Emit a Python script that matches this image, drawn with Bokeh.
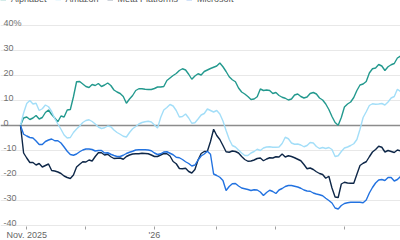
from bokeh.plotting import figure
from bokeh.models import Range1d, FixedTicker, Span, Legend, LegendItem, ColumnDataSource
from bokeh.core.properties import value
from bokeh.embed import file_html
from bokeh.resources import INLINE

# ---- data: % change since start, one value per trading day ----
series_names = ["Alphabet", "Amazon", "Meta Platforms", "Microsoft"]
series_colors = ["#23998e", "#a3def8", "#0e2748", "#2272e0"]

alphabet = [0, 3.0, 3.4, 2.4, 3.0, 4.0, 2.6, 3.2, 5.2, 6.2, 4.4, 3.0, 1.5, 3.8, 3.4, 6.2, 6.4, 11.5, 17.5, 17.6,
            16.6, 15.6, 15.2, 16.4, 16.0, 16.8, 15.6, 16.2, 17.0, 16.0, 14.2, 13.4, 12.8, 11.6, 8.9, 10.6, 12.0, 14.0, 14.7, 14.7,
            14.5, 14.4, 14.4, 14.8, 15.4, 15.4, 15.6, 18.0, 19.0, 20.0, 20.8, 22.0, 22.7, 22.2, 20.5, 18.5, 19.8, 20.7, 20.2, 21.6,
            22.2, 22.8, 23.3, 23.8, 25.0, 23.5, 21.6, 19.5, 18.3, 17.5, 15.0, 13.4, 12.6, 11.6, 10.4, 10.6, 11.5, 14.6, 14.0, 14.2,
            14.0, 12.8, 13.2, 12.0, 11.3, 10.9, 10.2, 10.6, 12.2, 12.6, 11.6, 11.0, 11.4, 12.8, 13.2, 12.6, 11.0, 10.2, 8.6, 6.4,
            3.6, 1.2, 0.1, 3.2, 7.4, 8.6, 9.4, 11.2, 14.0, 16.2, 16.6, 17.6, 21.0, 22.7, 23.0, 24.4, 23.8, 22.0, 23.5, 24.3,
            24.8, 27.0, 27.8]
amazon = [0, 5.0, 8.8, 10.0, 8.6, 8.9, 6.0, 6.7, 8.2, 7.5, 5.6, 2.8, 0.6, -1.5, -3.8, -5.0, -4.8, -2.8, -1.4, -0.2,
          1.2, 2.0, 2.3, 1.6, 0.6, -0.6, -1.2, -0.9, -0.2, -0.5, -1.8, -2.8, -3.5, -4.3, -4.6, -2.8, -1.3, -0.4, 0.6, 1.2,
          1.5, 1.7, 1.4, 0.2, -1.0, 3.2, 6.2, 7.2, 8.4, 7.8, 6.0, 3.4, 3.6, 4.6, 3.0, 0.9, 1.1, 2.6, 4.2, 4.8,
          6.6, 6.0, 5.4, 6.0, 4.6, 1.8, -2.0, -5.5, -8.0, -8.6, -9.8, -11.0, -12.0, -12.0, -11.0, -10.4, -9.5, -10.0, -9.0, -8.6,
          -8.5, -8.7, -8.7, -8.6, -7.2, -4.7, -5.3, -7.0, -7.5, -7.4, -7.8, -8.5, -8.0, -6.8, -7.0, -8.4, -9.2, -8.8, -9.2, -8.8,
          -9.6, -12.4, -12.1, -10.4, -9.0, -8.6, -8.0, -7.3, -5.6, -1.5, 3.2, 5.5, 8.0, 8.7, 8.5, 8.6, 8.8, 8.2, 9.4, 11.0,
          11.6, 14.5, 13.6]
meta = [0, -11.0, -13.0, -14.8, -14.8, -15.8, -15.2, -16.6, -16.0, -15.4, -18.0, -18.2, -18.6, -19.2, -20.2, -20.8, -21.2, -19.8, -16.6, -15.5,
        -14.5, -14.6, -13.8, -14.2, -12.4, -10.9, -10.9, -11.8, -11.5, -12.5, -13.2, -13.1, -13.0, -13.5, -12.4, -11.8, -11.4, -11.3, -11.3, -11.1,
        -11.2, -11.3, -11.8, -12.4, -12.4, -11.8, -11.2, -11.3, -12.2, -14.4, -15.3, -17.2, -17.3, -17.1, -18.4, -19.0, -17.6, -13.8, -11.2, -10.4,
        -10.3, -6.4, -1.5, -4.0, -5.6, -8.0, -10.5, -10.7, -10.2, -10.4, -11.0, -12.4, -13.6, -14.3, -14.2, -13.8, -13.2, -13.0, -14.1, -13.4,
        -12.9, -13.0, -12.5, -12.6, -11.4, -12.6, -12.1, -12.4, -12.9, -13.5, -14.1, -15.6, -17.3, -17.0, -17.6, -18.5, -19.2, -19.6, -21.1, -20.3,
        -25.0, -28.6, -28.8, -23.4, -22.7, -23.0, -23.1, -23.1, -19.5, -16.0, -15.1, -14.5, -12.5, -10.6, -9.6, -8.3, -8.7, -10.6, -10.0, -10.4,
        -10.8, -9.8, -10.2]
microsoft = [0, -3.5, -4.2, -4.8, -5.0, -6.2, -7.6, -7.6, -6.4, -5.8, -5.4, -6.1, -6.1, -7.0, -8.6, -10.3, -11.6, -11.9, -11.4, -10.5,
             -9.8, -9.4, -9.4, -9.6, -10.2, -10.0, -10.0, -11.0, -10.9, -11.5, -12.0, -12.4, -12.4, -11.9, -11.2, -10.7, -10.3, -9.8, -9.7, -9.7,
             -9.7, -9.8, -10.1, -11.0, -11.6, -11.3, -10.6, -10.5, -11.1, -11.7, -12.7, -12.9, -13.6, -14.5, -15.2, -16.2, -15.8, -13.8, -12.2, -11.4,
             -10.3, -11.5, -19.4, -20.0, -20.7, -22.0, -26.0, -24.4, -23.3, -23.2, -24.2, -25.0, -25.3, -25.6, -26.0, -25.7, -25.8, -26.6, -28.0, -26.8,
             -25.9, -26.4, -27.2, -25.8, -25.2, -24.4, -24.0, -24.0, -24.3, -24.6, -25.1, -25.8, -26.2, -26.3, -27.0, -27.4, -27.7, -28.1, -29.1, -30.0,
             -31.0, -33.0, -33.4, -32.0, -31.2, -30.9, -30.7, -30.7, -30.7, -30.7, -30.9, -29.8, -27.0, -24.8, -23.0, -21.8, -21.6, -22.0, -20.8, -20.8,
             -22.2, -21.6, -20.4]

day = list(range(len(alphabet)))

# month-start trading-day positions and their labels
month_ticks = [2, 21, 43, 63, 82, 104]
month_labels = ["Nov. 2025", "", "'26", "", "", ""]

y_ticks = [40, 30, 20, 10, 0, -10, -20, -30, -40]
y_tick_labels = ["40%", "30", "20", "10", "0", "-10", "-20", "-30", "-40"]

# ---- figure ----
FONT = "Liberation Sans"
x_start = -20 / 3.115
x_end = day[-1]

p = figure(frame_width=400, frame_height=226,
           x_range=Range1d(x_start, x_end), y_range=Range1d(-40.4, 50),
           output_backend="svg", toolbar_location=None,
           min_border_left=0, min_border_right=0, min_border_top=0, min_border_bottom=0)
p.outline_line_color = None
p.background_fill_color = "white"
p.border_fill_color = "white"

p.yaxis.visible = False
p.xgrid.visible = False
p.ygrid.ticker = FixedTicker(ticks=y_ticks)
p.ygrid.grid_line_color = "#e8e8e8"
p.ygrid.grid_line_width = 1

xa = p.xaxis[0]
xa.ticker = FixedTicker(ticks=month_ticks)
xa.major_label_overrides = {t: l for t, l in zip(month_ticks, month_labels)}
xa.axis_line_color = None
xa.major_tick_line_color = "#a0a0a0"
xa.major_tick_in = 0
xa.major_tick_out = 3
xa.minor_tick_line_color = None
xa.major_label_standoff = 0
xa.major_label_text_font = FONT
xa.major_label_text_font_size = "9px"
xa.major_label_text_color = "#666666"

zero = Span(location=0, dimension="width", line_color="#8c8c8c", line_width=1.5, level="underlay")
p.add_layout(zero)

# y tick labels drawn inside plot, above the gridlines
lab_src = ColumnDataSource(dict(x=[x_start] * len(y_ticks), y=y_ticks, t=y_tick_labels))
p.text(x="x", y="y", text="t", source=lab_src, x_offset=3, y_offset=-3,
       text_font=value(FONT), text_font_size="9px", text_color="#707070",
       text_baseline="alphabetic", text_align="left")

renderers = []
for name, col, vals in zip(series_names, series_colors, [alphabet, amazon, meta, microsoft]):
    r = p.line(day, vals, line_color=col, line_width=1.4)
    renderers.append(r)

legend = Legend(items=[LegendItem(label=n, renderers=[r]) for n, r in zip(series_names, renderers)],
                orientation="horizontal", location=(0, 222),
                glyph_width=6, glyph_height=6, label_standoff=5, spacing=8,
                label_width=0, label_height=9, padding=0, margin=0,
                label_text_font=FONT, label_text_font_size="9px", label_text_color="#555555",
                border_line_color=None, background_fill_alpha=0)
p.add_layout(legend)

open("out.html", "w").write(file_html(p, INLINE))
